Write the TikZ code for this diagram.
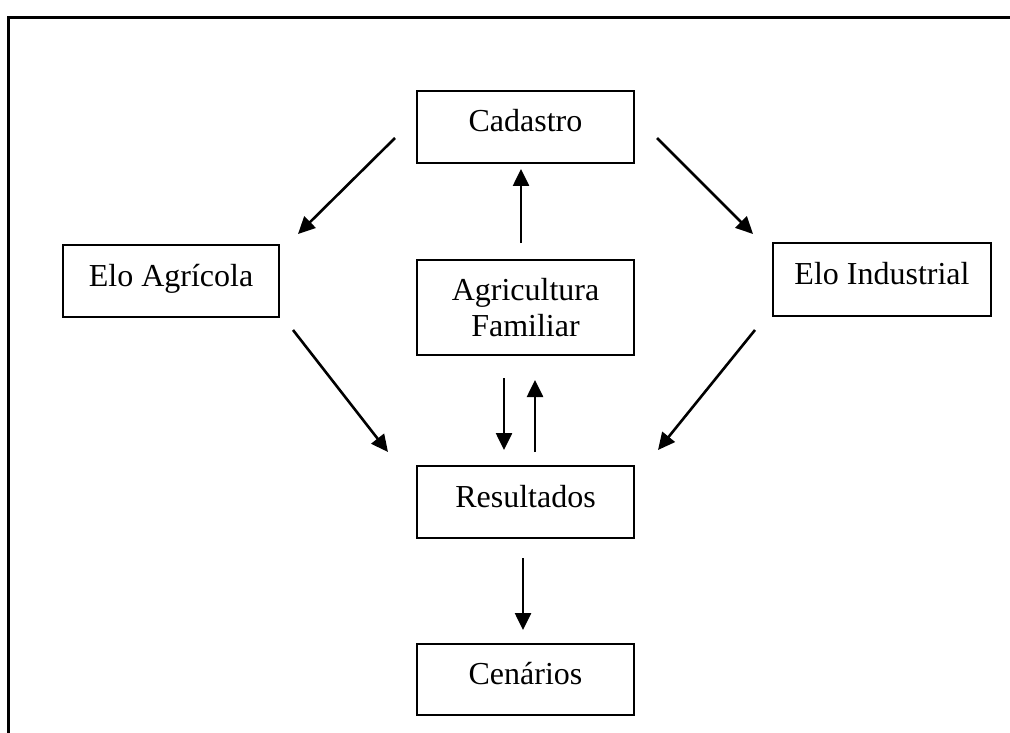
\documentclass[tikz,border=0pt]{standalone}
\usepackage{fontspec}
\setmainfont{Liberation Serif}
\usetikzlibrary{arrows.meta}
\begin{document}
\begin{tikzpicture}[x=1pt,y=-1pt,
  box/.style={draw, line width=2.4pt, minimum width=217pt, minimum height=72pt,
    inner sep=0pt, align=center, font=\fontsize{32pt}{36.4pt}\selectfont},
  oneline/.style={text height=22pt, text depth=12pt},
  conn/.style={line width=2.6pt, -{Triangle[length=17pt,width=16pt]}},
  frameline/.style={line width=3.6pt}]
\useasboundingbox (0,0) rectangle (1010,733);

% outer frame: top and left edges only
\coordinate (fa) at (1010,17.5);
\coordinate (fb) at (8.5,17.5);
\coordinate (fc) at (8.5,733);
\draw[frameline] (fa) -- (fb) -- (fc);

% boxes
\node[box, oneline] (cad) at (525.5,127) {Cadastro};
\node[box, minimum height=95pt] (agr) at (525.5,307.5) {Agricultura\\Familiar};
\node[box, oneline] (res) at (525.5,502) {Resultados};
\node[box, oneline, minimum height=71pt] (cen) at (525.5,679.5) {Cenários};
\node[box, oneline, minimum width=216pt] (eloa) at (171,281) {Elo Agrícola};
\node[box, oneline, minimum width=218pt, minimum height=73pt] (eloi) at (882,279.5) {Elo Industrial};

% arrow end points
\coordinate (c1s) at (395,138);  \coordinate (c1e) at (298,234);
\coordinate (c2s) at (657,138);  \coordinate (c2e) at (753,234);
\coordinate (c3s) at (293,330);  \coordinate (c3e) at (388,452);
\coordinate (c4s) at (755,330);  \coordinate (c4e) at (658,450);
\coordinate (u1s) at (521,243);  \coordinate (u1e) at (521,169);
\coordinate (d1s) at (504,378);  \coordinate (d1e) at (504,450);
\coordinate (u2s) at (535,452);  \coordinate (u2e) at (535,380);
\coordinate (d2s) at (523,558);  \coordinate (d2e) at (523,630);

% connectors
\draw[conn] (c1s) -- (c1e);
\draw[conn] (c2s) -- (c2e);
\draw[conn] (c3s) -- (c3e);
\draw[conn] (c4s) -- (c4e);
\draw[conn] (u1s) -- (u1e);
\draw[conn] (d1s) -- (d1e);
\draw[conn] (u2s) -- (u2e);
\draw[conn] (d2s) -- (d2e);
\end{tikzpicture}
\end{document}
